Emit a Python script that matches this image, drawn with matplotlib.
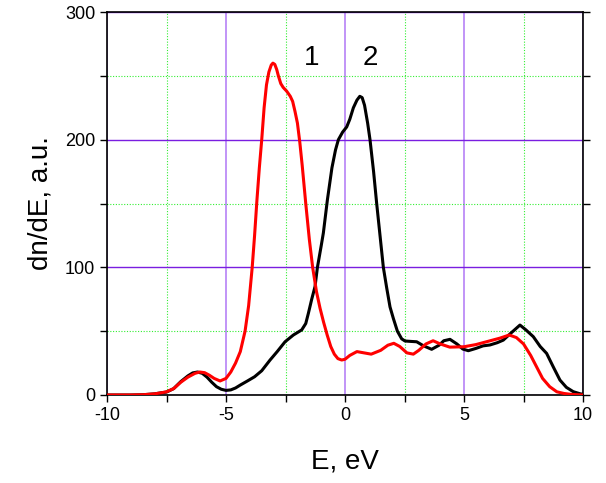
import matplotlib
matplotlib.use('Agg')
import matplotlib.pyplot as plt
from matplotlib.ticker import MultipleLocator

plt.rcParams['font.family'] = ['Liberation Sans', 'DejaVu Sans']
plt.rcParams['axes.unicode_minus'] = False

# curve 1 (red)
e1 = [-10, -9, -8.5, -8.0, -7.7, -7.5, -7.2, -6.9, -6.6, -6.3, -6.1, -5.9, -5.7, -5.5,
      -5.25, -5.0, -4.8, -4.6, -4.4, -4.2, -4.05, -3.9, -3.8, -3.7, -3.6, -3.5, -3.4,
      -3.3, -3.2, -3.1, -3.03, -2.95, -2.87, -2.8, -2.7, -2.6, -2.45, -2.3, -2.2, -2.1,
      -2.0, -1.9, -1.8, -1.65, -1.5, -1.36, -1.2, -1.05, -0.9, -0.75, -0.6, -0.45, -0.3,
      -0.14, 0.0, 0.2, 0.5, 0.8, 1.1, 1.5, 1.8, 2.05, 2.3, 2.6, 2.87, 3.1, 3.4, 3.7,
      4.0, 4.4, 5.0, 5.5, 6.0, 6.5, 6.9, 7.2, 7.5, 7.8, 8.05, 8.3, 8.6, 8.9, 9.2, 9.5, 10]
n1 = [0, 0, 0.2, 0.9, 1.8, 2.5, 5, 10, 14, 17, 18, 17.5, 15.5, 13,
      11, 13, 18, 25, 34, 50, 70, 100, 125, 153, 178, 200, 225,
      243, 253, 258.5, 260, 259, 255, 250, 244, 241, 238, 234, 230, 222,
      213, 198, 180, 150, 122, 100, 81, 68, 57, 47, 38, 32, 28.5,
      27.4, 28, 31, 34, 33, 32, 35, 39, 40.5, 38, 33, 32, 35, 40, 42.5,
      40, 37.5, 37.8, 39.5, 42, 44.5, 47, 45, 40, 31, 22, 13, 6.5, 2.5, 1.2, 0.5, 0]

# curve 2 (black)
e2 = [-10, -9, -8.5, -8.0, -7.7, -7.5, -7.2, -6.9, -6.6, -6.4, -6.2, -6.0, -5.8, -5.6,
      -5.4, -5.2, -5.0, -4.8, -4.6, -4.4, -4.1, -3.8, -3.5, -3.15, -2.85, -2.52, -2.17,
      -1.95, -1.82, -1.65, -1.54, -1.4, -1.26, -1.16, -1.0, -0.91, -0.74, -0.55, -0.4,
      -0.28, -0.1, 0.07, 0.2, 0.35, 0.5, 0.62, 0.72, 0.82, 0.95, 1.05, 1.2, 1.33, 1.47,
      1.61, 1.75, 1.89, 2.03, 2.2, 2.38, 2.52, 2.75, 3.01, 3.3, 3.64, 3.95, 4.15, 4.41,
      4.7, 4.95, 5.18, 5.5, 5.8, 6.09, 6.4, 6.65, 7.0, 7.35, 7.6, 7.91, 8.2, 8.47, 8.75,
      9.03, 9.3, 9.59, 9.87, 10]
n2 = [0, 0, 0.2, 0.9, 1.8, 2.3, 5, 10.5, 15, 17.3, 18, 17, 14, 10,
      6.5, 4.5, 3.6, 4, 5.5, 7.8, 11, 14.3, 19, 27.4, 34, 41.7, 47,
      49.5, 51, 56, 64, 75, 85, 100, 117, 127, 153, 178, 192,
      200, 206, 210, 216, 225, 231, 234, 233, 227, 213, 200, 175, 150, 125,
      100, 84, 69, 60, 50, 44, 42.3, 42, 41.7, 38.5, 35.8, 39, 42.5, 43.6,
      40, 36, 34.7, 36.5, 38.5, 39.2, 41, 43, 49, 54.8, 51, 45.7, 38, 32.6, 22,
      11.7, 6, 2.6, 1, 0.5]

fig = plt.figure(figsize=(6.06, 4.83), dpi=100)
ax = fig.add_axes([0.1766, 0.1822, 0.7855, 0.7928])

ax.plot(e2, n2, color='black', lw=2.2, zorder=3)
ax.plot(e1, n1, color='red', lw=2.2, zorder=4)

ax.set_xlim(-10, 10)
ax.set_ylim(0, 300)
ax.xaxis.set_major_locator(MultipleLocator(5))
ax.xaxis.set_minor_locator(MultipleLocator(2.5))
ax.yaxis.set_major_locator(MultipleLocator(100))
ax.yaxis.set_minor_locator(MultipleLocator(50))

ax.grid(which='major', axis='x', color='#b077f5', lw=1.1, zorder=0)
ax.grid(which='major', axis='y', color='#7a1ee0', lw=1.0, zorder=0)
ax.grid(which='minor', color='#33ee33', lw=0.8, ls=(0, (1, 1.5)), zorder=0)
ax.set_axisbelow(True)

ax.tick_params(which='both', direction='out', length=5, width=1, labelsize=13,
               right=True, top=False)
ax.tick_params(axis='y', which='both', right=True, labelright=False)
for s in ax.spines.values():
    s.set_linewidth(1.2)

ax.set_xlabel('E, eV', fontsize=20, labelpad=18)
ax.set_ylabel('dn/dE, a.u.', fontsize=20, labelpad=8)

ax.text(-1.39, 264, '1', fontsize=20, ha='center', va='center')
ax.text(1.05, 264, '2', fontsize=20, ha='center', va='center')

fig.savefig('out.png', dpi=100)
